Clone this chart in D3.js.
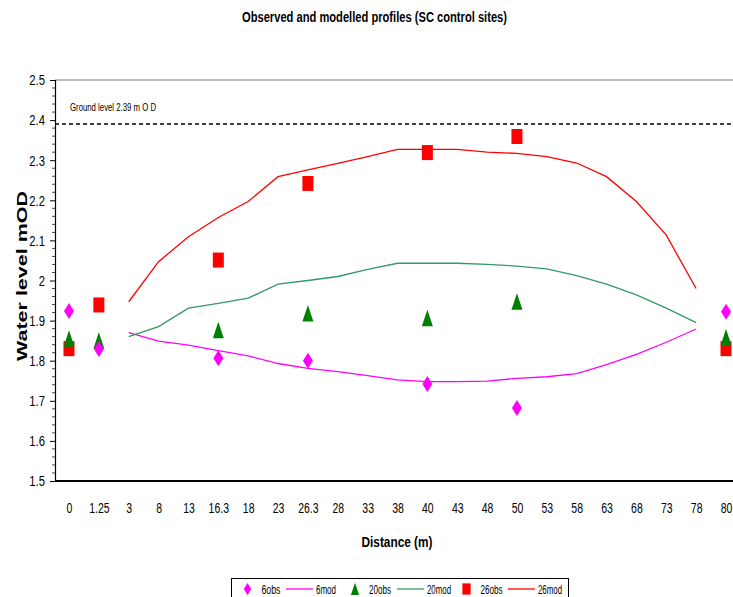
<!DOCTYPE html>
<html><head><meta charset="utf-8">
<script src="https://cdn.jsdelivr.net/npm/d3@7"></script>
<style>
html,body{margin:0;padding:0;background:#fff;}
svg{display:block;}
text{font-family:"Liberation Sans","Arial",sans-serif;fill:#000;}
</style></head>
<body><svg id="c" width="733" height="597"></svg>
<script>
// ---- data ----
const categories = ["0","1.25","3","8","13","16.3","18","23","26.3","28","33","38","40","43","48","50","53","58","63","68","73","78","80"];
const obsCats = ["0","1.25","16.3","26.3","40","50","80"];
const obs6  = [1.924, 1.829, 1.806, 1.800, 1.742, 1.682, 1.922];
const obs20 = [1.855, 1.850, 1.876, 1.918, 1.906, 1.947, 1.858];
const obs26 = [1.830, 1.939, 2.051, 2.242, 2.319, 2.359, 1.830];
const modCats = ["3","8","13","16.3","18","23","26.3","28","33","38","40","43","48","50","53","58","63","68","73","78"];
const mod6  = [1.870, 1.849, 1.839, 1.825, 1.812, 1.793, 1.781, 1.773, 1.763, 1.752, 1.748, 1.748, 1.749, 1.756, 1.760, 1.768, 1.790, 1.816, 1.846, 1.879];
const mod20 = [1.860, 1.885, 1.931, 1.943, 1.956, 1.991, 2.000, 2.010, 2.028, 2.043, 2.043, 2.043, 2.040, 2.036, 2.029, 2.012, 1.991, 1.964, 1.931, 1.895];
const mod26 = [1.947, 2.047, 2.109, 2.157, 2.197, 2.259, 2.276, 2.292, 2.309, 2.327, 2.327, 2.327, 2.320, 2.317, 2.309, 2.293, 2.259, 2.197, 2.113, 1.980];
const yTicks = [1.5, 1.6, 1.7, 1.8, 1.9, 2, 2.1, 2.2, 2.3, 2.4, 2.5];
const groundLevel = 2.39;
const title = "Observed and modelled profiles (SC control sites)";
const xTitle = "Distance (m)";
const yTitle = "Water level mOD";
const groundLabel = "Ground level 2.39 m O D";
const legendItems = [
  {label:"6obs", type:"diamond", color:"#FF00FF"},
  {label:"6mod", type:"line", color:"#FF00FF"},
  {label:"20obs", type:"triangle", color:"#008000"},
  {label:"20mod", type:"line", color:"#339966"},
  {label:"26obs", type:"square", color:"#FF0000"},
  {label:"26mod", type:"line", color:"#FF0000"}
];

// ---- layout ----
const svg = d3.select("#c");
const pL = 55, pT = 80, pB = 481;
const x = d3.scalePoint().domain(categories).range([69, 726]);
const y = d3.scaleLinear().domain([1.5, 2.5]).range([pB, pT]);

function fit(sel, w){ sel.attr("textLength", w).attr("lengthAdjust","spacingAndGlyphs"); return sel; }
function squeeze(sel, k){
  sel.each(function(){ const w = this.getComputedTextLength();
    d3.select(this).attr("textLength", w*k).attr("lengthAdjust","spacingAndGlyphs"); });
  return sel;
}

// title
fit(svg.append("text").attr("x",374.5).attr("y",22).attr("text-anchor","middle")
  .attr("font-size",14).attr("font-weight","bold").text(title), 265);

// frame top
svg.append("line").attr("x1",pL).attr("x2",733).attr("y1",pT).attr("y2",pT)
  .attr("stroke","#808080").attr("stroke-width",1);

// y axis
const yAxis = svg.append("g").attr("transform",`translate(${pL},0)`)
  .call(d3.axisLeft(y).tickValues(yTicks).tickSize(5).tickPadding(5).tickFormat(d3.format("")));
yAxis.select(".domain").attr("stroke","#000").attr("stroke-width",1.2);
yAxis.selectAll(".tick text").attr("font-size",15).attr("fill","#000");
squeeze(yAxis.selectAll(".tick text"), 0.75);
// minor ticks
const minor = d3.range(1.52, 2.5, 0.02).filter(v => Math.abs(v*10 - Math.round(v*10)) > 0.01);
svg.append("g").selectAll("line").data(minor).join("line")
  .attr("x1",pL-3).attr("x2",pL).attr("y1",d=>y(d)).attr("y2",d=>y(d))
  .attr("stroke","#444").attr("stroke-width",1);

// x axis line
svg.append("line").attr("x1",pL).attr("x2",733).attr("y1",pB).attr("y2",pB)
  .attr("stroke","#000").attr("stroke-width",2);
// x tick labels (horizontally condensed)
const xAxis = svg.append("g").attr("transform",`translate(0,${pB})`)
  .call(d3.axisBottom(x).tickSize(0).tickPadding(21));
xAxis.select(".domain").remove();
xAxis.selectAll(".tick text").attr("font-size",15).attr("fill","#000")
  .attr("transform","scale(0.7,1)");

// axis titles
fit(svg.append("text").attr("x",397).attr("y",547).attr("text-anchor","middle")
  .attr("font-size",15).attr("font-weight","bold").text(xTitle), 71);
fit(svg.append("text").attr("transform","translate(27,276) rotate(-90)").attr("text-anchor","middle")
  .attr("font-size",15).attr("font-weight","bold").text(yTitle), 170);

// ground level
svg.append("line").attr("x1",pL).attr("x2",733).attr("y1",y(groundLevel)).attr("y2",y(groundLevel))
  .attr("stroke","#000").attr("stroke-width",1.5).attr("stroke-dasharray","4,3");
fit(svg.append("text").attr("x",70).attr("y",111).attr("font-size",10).text(groundLabel), 86);

// model lines
const line = d3.line().x(d=>x(d[0])).y(d=>y(d[1]));
[[mod6,"#FF00FF"],[mod20,"#339966"],[mod26,"#FF0000"]].forEach(([vals,col])=>{
  svg.append("path").datum(modCats.map((c,i)=>[c,vals[i]]))
    .attr("d",line).attr("fill","none").attr("stroke",col).attr("stroke-width",1.3);
});

// markers
function marker(g, type, cx, cy, color){
  let p;
  if(type==="diamond") p = `M${cx},${cy-8}L${cx+5},${cy}L${cx},${cy+8}L${cx-5},${cy}Z`;
  else if(type==="triangle") p = `M${cx},${cy-8.5}L${cx+5.5},${cy+8}L${cx-5.5},${cy+8}Z`;
  else p = `M${cx-5.5},${cy-7.5}h11v15h-11Z`;
  g.append("path").attr("d",p).attr("fill",color);
}
const mg = svg.append("g");
obsCats.forEach((c,i)=> marker(mg,"square",x(c),y(obs26[i]),"#FF0000"));
obsCats.forEach((c,i)=> marker(mg,"triangle",x(c),y(obs20[i]),"#008000"));
obsCats.forEach((c,i)=> marker(mg,"diamond",x(c),y(obs6[i]),"#FF00FF"));

// legend
const lg = svg.append("g");
lg.append("rect").attr("x",231.5).attr("y",578.5).attr("width",337).attr("height",24)
  .attr("fill","#fff").attr("stroke","#000").attr("stroke-width",1);
const lx = [247.5, 286, 355, 397, 466.5, 508];
legendItems.forEach((it,i)=>{
  const cx = lx[i], cy = 589;
  if(it.type==="line"){
    lg.append("line").attr("x1",cx).attr("x2",cx+27).attr("y1",cy).attr("y2",cy)
      .attr("stroke",it.color).attr("stroke-width",1.3);
    fit(lg.append("text").attr("x",cx+30).attr("y",cy+4.5).attr("font-size",12).text(it.label), it.label.length>4?24:20);
  } else {
    const s = 0.75;
    const g2 = lg.append("g").attr("transform",`translate(${cx},${cy}) scale(${s})`);
    marker(g2,it.type,0,0,it.color);
    fit(lg.append("text").attr("x",cx+14).attr("y",cy+4.5).attr("font-size",12).text(it.label), it.label.length>4?22:19);
  }
});
</script></body></html>
